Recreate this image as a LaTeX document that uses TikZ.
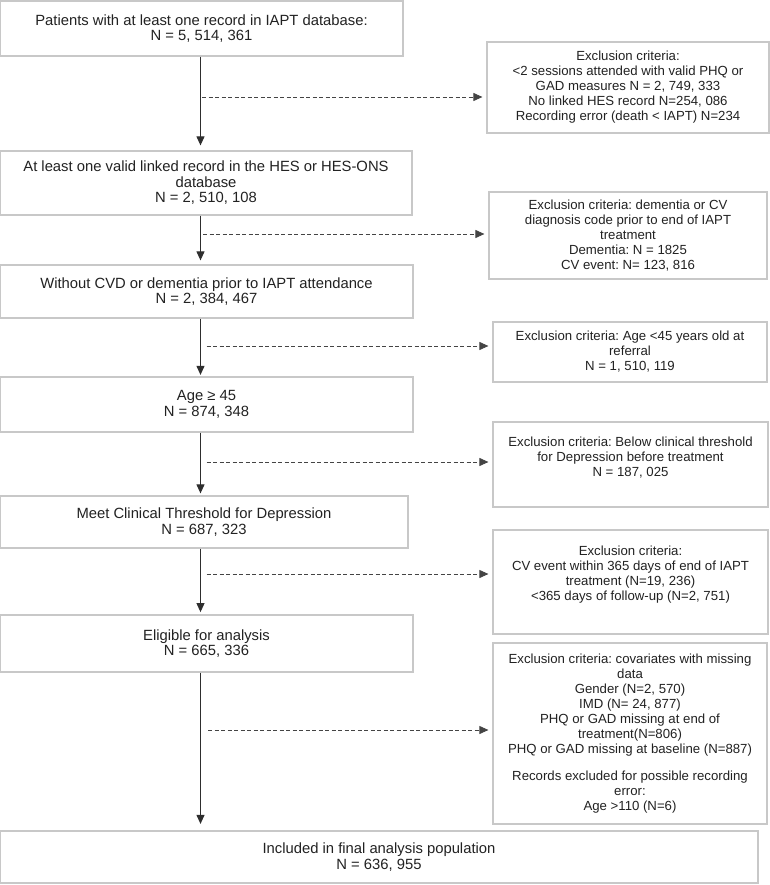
\documentclass[tikz,border=0pt]{standalone}
\usepackage{fontspec}
\setmainfont{Liberation Sans}
\frenchspacing
\usetikzlibrary{arrows.meta,calc}
\definecolor{boxline}{HTML}{C8C8C8}
\definecolor{inkc}{HTML}{222222}
\definecolor{arrc}{HTML}{2E2E2E}
\definecolor{dashc}{HTML}{444444}
\begin{document}
\begin{tikzpicture}[x=1pt,y=-1pt,
  mainbox/.style={draw=boxline,line width=1.2pt,fill=white,inner sep=0pt,align=center,text=inkc,
    font=\fontsize{14.8}{15.5}\selectfont},
  sidebox/.style={draw=boxline,line width=1.2pt,fill=white,inner sep=0pt,align=center,text=inkc,
    font=\fontsize{13.2}{15}\selectfont},
  sidetext/.style={inner sep=0pt,align=center,text=inkc,font=\fontsize{13.2}{15}\selectfont,anchor=north},
  flow/.style={draw=arrc,line width=1pt,-{Triangle[length=9pt,width=8pt]}},
  excl/.style={draw=dashc,line width=0.9pt,dash pattern=on 4pt off 2.5pt,-{Triangle[length=9pt,width=8pt]},shorten >=4pt}
]
\useasboundingbox (0,0) rectangle (770,885);

% main column
\node[mainbox,minimum width=403pt,minimum height=55pt] (b1) at (201.5,28.5)
  {Patients with at least one record in IAPT database:\\N = 5, 514, 361};
\node[mainbox,minimum width=412pt,minimum height=64pt] (b2) at (206,183)
  {At least one valid linked record in the HES or HES-ONS\\database\\N = 2, 510, 108};
\node[mainbox,minimum width=413pt,minimum height=53pt] (b3) at (206.5,291.5)
  {Without CVD or dementia prior to IAPT attendance\\N = 2, 384, 467};
\node[mainbox,minimum width=413pt,minimum height=55pt] (b4) at (206.5,404.5)
  {Age ≥ 45\\N = 874, 348};
\node[mainbox,minimum width=408pt,minimum height=52pt] (b5) at (204,522)
  {Meet Clinical Threshold for Depression\\N = 687, 323};
\node[mainbox,minimum width=413pt,minimum height=57pt] (b6) at (206.5,643.5)
  {Eligible for analysis\\N = 665, 336};
\node[mainbox,minimum width=758pt,minimum height=52pt] (b7) at (379,857)
  {Included in final analysis population\\N = 636, 955};

% exclusion column
\node[sidebox,minimum width=282pt,minimum height=91pt] (r1) at (628,87.5)
  {Exclusion criteria:\\<2 sessions attended with valid PHQ or\\GAD measures N = 2, 749, 333\\No linked HES record N=254, 086\\Recording error (death < IAPT) N=234};
\node[sidebox,minimum width=278pt,minimum height=87pt] (r2) at (628,235.5)
  {Exclusion criteria: dementia or CV\\diagnosis code prior to end of IAPT\\treatment\\Dementia: N = 1825\\CV event: N= 123, 816};
\node[sidebox,minimum width=274pt,minimum height=60pt] (r3) at (630,352)
  {Exclusion criteria: Age <45 years old at\\referral\\N = 1, 510, 119};
\node[sidebox,minimum width=275pt,minimum height=85pt] (r4) at (630.5,464.5) {};
\node[sidetext] (t4) at ($(r4.north)+(0,15)$)
  {Exclusion criteria: Below clinical threshold\\for Depression before treatment\\N = 187, 025};
\node[sidebox,minimum width=275pt,minimum height=104pt] (r5) at (630.5,582) {};
\node[sidetext] (t5) at ($(r5.north)+(0,16)$)
  {Exclusion criteria:\\CV event within 365 days of end of IAPT\\treatment (N=19, 236)\\<365 days of follow-up (N=2, 751)};
\node[sidebox,minimum width=274pt,minimum height=181pt] (r6) at (630,733.5)
  {Exclusion criteria: covariates with missing\\data\\Gender (N=2, 570)\\IMD (N= 24, 877)\\PHQ or GAD missing at end of\\treatment(N=806)\\PHQ or GAD missing at baseline (N=887)\\[12pt]Records excluded for possible recording\\error:\\Age >110 (N=6)};

% vertical flow
\coordinate (ax) at (200.5,0);
\draw[flow,shorten >=5pt] (b1.south -| ax) -- (b2.north -| ax);
\draw[flow,shorten >=4pt] (b2.south -| ax) -- (b3.north -| ax);
\draw[flow,shorten >=1.5pt] (b3.south -| ax) -- (b4.north -| ax);
\draw[flow,shorten >=2pt] (b4.south -| ax) -- (b5.north -| ax);
\draw[flow,shorten >=2.3pt] (b5.south -| ax) -- (b6.north -| ax);
\draw[flow,shorten >=6.5pt] (b6.south -| ax) -- (b7.north -| ax);

% exclusion arrows
\coordinate (d1) at (202,97);
\coordinate (d2) at (203,234);
\coordinate (d3) at (206.5,346);
\coordinate (d4) at (206.5,462);
\coordinate (d5) at (206.5,574);
\coordinate (d6) at (208,730);
\draw[excl] (d1) -- (r1.west |- d1);
\draw[excl] (d2) -- (r2.west |- d2);
\draw[excl] (d3) -- (r3.west |- d3);
\draw[excl] (d4) -- (r4.west |- d4);
\draw[excl] (d5) -- (r5.west |- d5);
\draw[excl] (d6) -- (r6.west |- d6);
\end{tikzpicture}
\end{document}
